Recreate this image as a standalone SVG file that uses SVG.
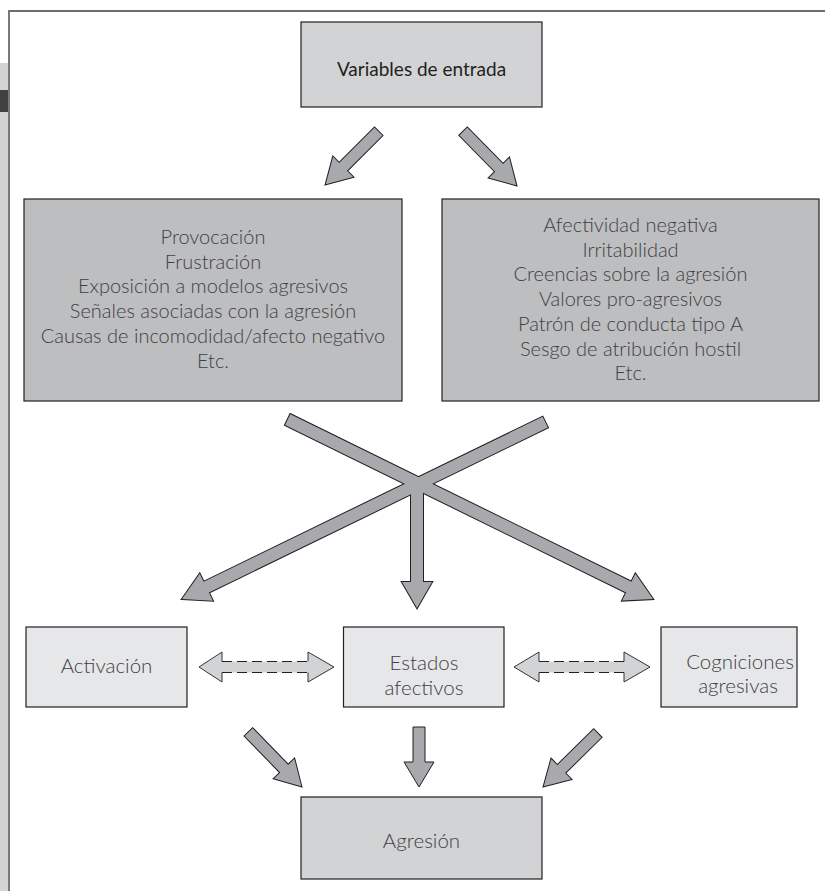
<svg xmlns="http://www.w3.org/2000/svg" width="825" height="891" viewBox="0 0 825 891">
<style>
text{font-family:Lato,"Liberation Sans",sans-serif;font-weight:300;fill:#414042;text-anchor:middle;font-size:20px}
.m{font-size:20.5px}
.b1{fill:#bcbec0;stroke:#231f20;stroke-width:1.2}
.b2{fill:#d1d3d4;stroke:#231f20;stroke-width:1.2}
.b3{fill:#e6e7e8;stroke:#231f20;stroke-width:1.2}
.ar{fill:#a7a9ac;stroke:#231f20;stroke-width:1}
.arw{fill:#a7a9ac;stroke:#231f20;stroke-width:2}
.arf{fill:#a7a9ac;stroke:none}
.dfill{fill:#d1d3d4;stroke:none}
.dhead{fill:none;stroke:#231f20;stroke-width:0.9}
.ddash{fill:none;stroke:#231f20;stroke-width:1;stroke-dasharray:10 5}
</style>
<rect width="825" height="891" fill="#fff"/>
<g id="frame">
<rect x="0" y="63" width="8" height="828" fill="#d1d3d4"/>
<rect x="0" y="90" width="8" height="22" fill="#414042"/>
<line x1="9" y1="11" x2="9" y2="891" stroke="#58595b" stroke-width="1.6"/>
<line x1="8.2" y1="11" x2="825" y2="11" stroke="#6d6e71" stroke-width="2"/>
</g>
<g id="connectors">
<path class="ar" transform="translate(325,185) rotate(135)" d="M0,0 L-26,-15 L-26,-6 L-76,-6 L-76,6 L-26,6 L-26,15 Z"/>
<path class="ar" transform="translate(517,186) rotate(45.5)" d="M0,0 L-26,-15 L-26,-6 L-77,-6 L-77,6 L-26,6 L-26,15 Z"/>
<g id="cross">
<path class="arw" transform="translate(182,599) rotate(154.04)" d="M0,0 L-27,-15 L-27,-6 L-404,-6 L-404,6 L-27,6 L-27,15 Z"/>
<path class="arw" transform="translate(653,599) rotate(26.16)" d="M0,0 L-27,-15 L-27,-6 L-407,-6 L-407,6 L-27,6 L-27,15 Z"/>
<path class="arw" transform="translate(417,608) rotate(90)" d="M0,0 L-26,-15 L-26,-6 L-122,-6 L-122,6 L-26,6 L-26,15 Z"/>
<path class="arf" transform="translate(182,599) rotate(154.04)" d="M0,0 L-27,-15 L-27,-6 L-404,-6 L-404,6 L-27,6 L-27,15 Z"/>
<path class="arf" transform="translate(653,599) rotate(26.16)" d="M0,0 L-27,-15 L-27,-6 L-407,-6 L-407,6 L-27,6 L-27,15 Z"/>
<path class="arf" transform="translate(417,608) rotate(90)" d="M0,0 L-26,-15 L-26,-6 L-122,-6 L-122,6 L-26,6 L-26,15 Z"/>
</g>
<g id="dash-left">
<path class="dfill" d="M199,667 L222,652 L222,661.5 L308,661.5 L308,652 L334,667 L308,682 L308,672.5 L222,672.5 L222,682 Z"/>
<path class="dhead" d="M222,661.5 L222,652 L199,667 L222,682 L222,672.5 M308,661.5 L308,652 L334,667 L308,682 L308,672.5"/>
<path class="ddash" d="M222,661.5 H308 M222,672.5 H308"/>
</g>
<g id="dash-right">
<path class="dfill" d="M514,667 L539,652 L539,661.5 L624,661.5 L624,652 L650,667 L624,682 L624,672.5 L539,672.5 L539,682 Z"/>
<path class="dhead" d="M539,661.5 L539,652 L514,667 L539,682 L539,672.5 M624,661.5 L624,652 L650,667 L624,682 L624,672.5"/>
<path class="ddash" d="M539,661.5 H624 M539,672.5 H624"/>
</g>
<path class="ar" transform="translate(302,787) rotate(45.8)" d="M0,0 L-26,-15 L-26,-6 L-77,-6 L-77,6 L-26,6 L-26,15 Z"/>
<path class="ar" transform="translate(419,787) rotate(90)" d="M0,0 L-25,-15 L-25,-6 L-60,-6 L-60,6 L-25,6 L-25,15 Z"/>
<path class="ar" transform="translate(543,787) rotate(135.5)" d="M0,0 L-26,-15 L-26,-6 L-77,-6 L-77,6 L-26,6 L-26,15 Z"/>
</g>
<g id="variables-entrada">
<rect class="b2" x="301" y="22" width="241" height="85"/>
<text x="421.5" y="76" style="font-weight:400;font-size:19px;fill:#231f20">Variables de entrada</text>
</g>
<g id="situacionales">
<rect class="b1" x="24" y="199" width="378" height="202"/>
<text x="213" y="244">Provocación</text>
<text x="213" y="268.7">Frustración</text>
<text x="213" y="293.4">Exposición a modelos agresivos</text>
<text x="213" y="318.1">Señales asociadas con la agresión</text>
<text x="213" y="342.8">Causas de incomodidad/afecto negativo</text>
<text x="213" y="367.5">Etc.</text>
</g>
<g id="personales">
<rect class="b1" x="442" y="199" width="377" height="202"/>
<text x="630.5" y="232">Afectividad negativa</text>
<text x="630.5" y="256.7">Irritabilidad</text>
<text x="630.5" y="281.4">Creencias sobre la agresión</text>
<text x="630.5" y="306.1">Valores pro-agresivos</text>
<text x="630.5" y="330.8">Patrón de conducta tipo A</text>
<text x="630.5" y="355.5">Sesgo de atribución hostil</text>
<text x="630.5" y="380.2">Etc.</text>
</g>
<g id="activacion">
<rect class="b3" x="26" y="627" width="161" height="80"/>
<text class="m" x="106.5" y="673">Activación</text>
</g>
<g id="estados-afectivos">
<rect class="b3" x="343.5" y="627" width="160.5" height="80"/>
<text class="m" x="424" y="670">Estados</text>
<text class="m" x="424" y="695">afectivos</text>
</g>
<g id="cogniciones">
<rect class="b3" x="661" y="627" width="136" height="80"/>
<text class="m" x="740" y="669">Cogniciones</text>
<text class="m" x="738" y="693">agresivas</text>
</g>
<g id="agresion">
<rect class="b2" x="301" y="797" width="241" height="82"/>
<text class="m" x="421.5" y="848">Agresión</text>
</g>
</svg>
